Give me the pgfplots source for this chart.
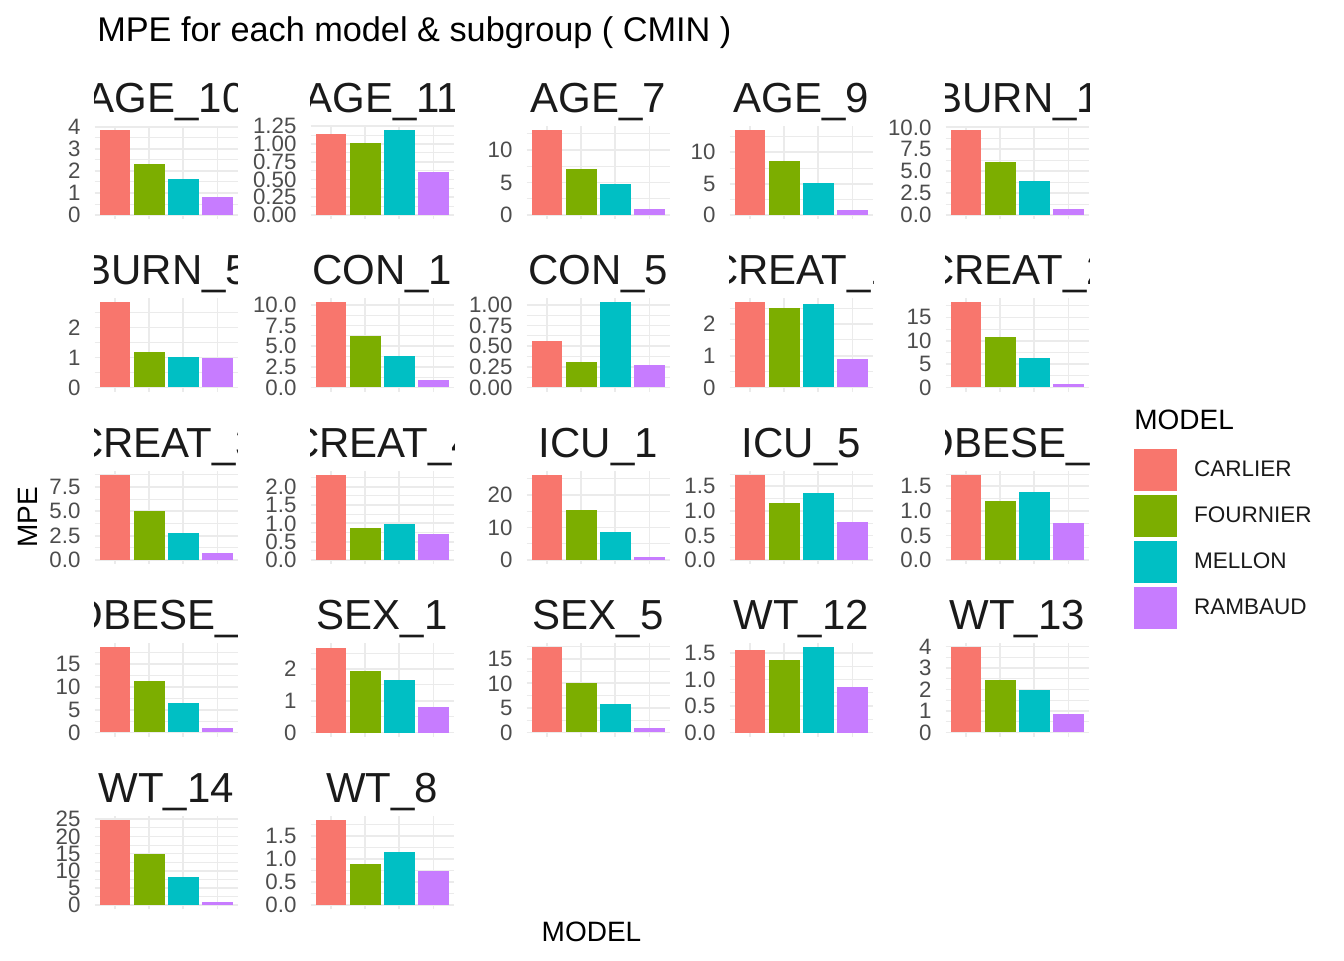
\documentclass[border=0pt]{standalone}
\usepackage{fontspec}
\setmainfont{Liberation Sans}
\usepackage{pgfplots}
\pgfplotsset{compat=1.18}

\definecolor{cCarlier}{HTML}{F8766D}
\definecolor{cFournier}{HTML}{7CAE00}
\definecolor{cMellon}{HTML}{00BFC4}
\definecolor{cRambaud}{HTML}{C77CFF}
\definecolor{gridc}{HTML}{EBEBEB}
\definecolor{tickc}{HTML}{4D4D4D}
\definecolor{txtc}{HTML}{1A1A1A}

\newcommand\tickfont{\fontsize{16.7}{18}\selectfont}
\newcommand\stripfont{\fontsize{31.5}{36}\selectfont}
\newcommand\labfont{\fontsize{21}{24}\selectfont}
\newcommand\legfont{\fontsize{16.9}{19}\selectfont}

\pgfplotsset{
  facet/.style={
    anchor=south west, scale only axis,
    width=107.625pt, height=70.125pt,
    xmin=0.4, xmax=4.6, xtick={1,2,3,4}, xticklabels={},
    ybar, bar width=0.9,
    axis line style={draw=none}, tick style={draw=none},
    xmajorgrids, ymajorgrids, yminorgrids,
    major grid style={draw=gridc, line width=1.3pt},
    minor grid style={draw=gridc, line width=0.65pt},
    yticklabel style={font=\tickfont, text=tickc, inner sep=0pt, xshift=-10.35pt},
    legend image code/.code={\fill[##1] (0pt,-15.625pt) rectangle (32.25pt,15.625pt);},
  },
  bar/.style={draw=none, bar shift=0pt},
  % tick sets
  t01234/.style={ytick={0,1,2,3,4}, yticklabels={0,1,2,3,4}, minor ytick={0.5,1.5,2.5,3.5}},
  t012/.style={ytick={0,1,2}, yticklabels={0,1,2}, minor ytick={0.5,1.5,2.5}},
  tq125/.style={ytick={0,0.25,0.5,0.75,1,1.25}, yticklabels={0.00,0.25,0.50,0.75,1.00,1.25},
    minor ytick={0.125,0.375,0.625,0.875,1.125}},
  tq100/.style={ytick={0,0.25,0.5,0.75,1}, yticklabels={0.00,0.25,0.50,0.75,1.00},
    minor ytick={0.125,0.375,0.625,0.875}},
  t0510/.style={ytick={0,5,10}, yticklabels={0,5,10}, minor ytick={2.5,7.5,12.5}},
  t2510/.style={ytick={0,2.5,5,7.5,10}, yticklabels={0.0,2.5,5.0,7.5,10.0},
    minor ytick={1.25,3.75,6.25,8.75}},
  t2575/.style={ytick={0,2.5,5,7.5}, yticklabels={0.0,2.5,5.0,7.5},
    minor ytick={1.25,3.75,6.25,8.75}},
  t515/.style={ytick={0,5,10,15}, yticklabels={0,5,10,15}, minor ytick={2.5,7.5,12.5,17.5}},
  th20/.style={ytick={0,0.5,1,1.5,2}, yticklabels={0.0,0.5,1.0,1.5,2.0},
    minor ytick={0.25,0.75,1.25,1.75,2.25}},
  t1020/.style={ytick={0,10,20}, yticklabels={0,10,20}, minor ytick={5,15,25}},
  th15/.style={ytick={0,0.5,1,1.5}, yticklabels={0.0,0.5,1.0,1.5}, minor ytick={0.25,0.75,1.25}},
  th15b/.style={ytick={0,0.5,1,1.5}, yticklabels={0.0,0.5,1.0,1.5}, minor ytick={0.25,0.75,1.25,1.75}},
  t525/.style={ytick={0,5,10,15,20,25}, yticklabels={0,5,10,15,20,25},
    minor ytick={2.5,7.5,12.5,17.5,22.5}},
}

% #1 x, #2 y (pt, lower left of panel), #3 strip text, #4 axis options,
% #5..#8 MPE of CARLIER, FOURNIER, MELLON, RAMBAUD
\newcommand{\panel}[8]{%
  \pgfmathsetmacro\ylo{-0.05*max(#5,#6,#7,#8)}%
  \pgfmathsetmacro\yhi{1.05*max(#5,#6,#7,#8)}%
  \begin{axis}[facet, at={(#1pt,#2pt)}, ymin=\ylo, ymax=\yhi, #4]
    \addplot[bar, fill=cCarlier] coordinates {(1,#5)};
    \addplot[bar, fill=cFournier] coordinates {(2,#6)};
    \addplot[bar, fill=cMellon] coordinates {(3,#7)};
    \addplot[bar, fill=cRambaud] coordinates {(4,#8)};
  \end{axis}
  \begin{scope}
    \clip (current axis.north west) rectangle ([yshift=50pt]current axis.north east);
    \node[anchor=base, font=\stripfont, text=txtc, inner sep=0pt]
      at ([yshift=10.3pt]current axis.north) {#3};
  \end{scope}%
}

\begin{document}
\begin{tikzpicture}
\useasboundingbox (0,0) rectangle (1008pt,720pt);

% row 1
\panel{70.875}{555.5625}{AGE\_10}{t01234}{3.85}{2.30}{1.65}{0.83}
\panel{232.875}{555.5625}{AGE\_11}{tq125}{1.14}{1.01}{1.195}{0.605}
\panel{394.875}{555.5625}{AGE\_7}{t0510}{13.08}{7.08}{4.77}{0.92}
\panel{547.125}{555.5625}{AGE\_9}{t0510}{13.56}{8.62}{5.10}{0.80}
\panel{709.125}{555.5625}{BURN\_1}{t2510}{9.70}{6.05}{3.88}{0.68}
% row 2
\panel{70.875}{426.1875}{BURN\_5}{t012}{2.83}{1.19}{1.02}{0.99}
\panel{232.875}{426.1875}{CON\_1}{t2510}{10.3}{6.26}{3.84}{0.93}
\panel{394.875}{426.1875}{CON\_5}{tq100}{0.565}{0.31}{1.03}{0.275}
\panel{547.125}{426.1875}{CREAT\_1}{t012}{2.68}{2.52}{2.64}{0.905}
\panel{709.125}{426.1875}{CREAT\_2}{t515}{18.2}{10.86}{6.36}{0.79}
% row 3
\panel{70.875}{296.8125}{CREAT\_3}{t2575}{8.73}{5.03}{2.77}{0.72}
\panel{232.875}{296.8125}{CREAT\_4}{th20}{2.32}{0.87}{0.98}{0.71}
\panel{394.875}{296.8125}{ICU\_1}{t1020}{26.2}{15.4}{8.56}{0.82}
\panel{547.125}{296.8125}{ICU\_5}{th15b}{1.73}{1.16}{1.36}{0.77}
\panel{709.125}{296.8125}{OBESE\_1}{th15b}{1.73}{1.20}{1.38}{0.76}
% row 4
\panel{70.875}{167.4375}{OBESE\_5}{t515}{18.6}{11.2}{6.4}{0.9}
\panel{232.875}{167.4375}{SEX\_1}{t012}{2.68}{1.93}{1.67}{0.79}
\panel{394.875}{167.4375}{SEX\_5}{t515}{17.3}{10.0}{5.9}{1.0}
\panel{547.125}{167.4375}{WT\_12}{th15}{1.56}{1.37}{1.60}{0.85}
\panel{709.125}{167.4375}{WT\_13}{t01234}{3.95}{2.46}{1.98}{0.85}
% row 5 (legend hangs off the last panel)
\panel{70.875}{38.0625}{WT\_14}{t525}{24.8}{14.85}{8.16}{0.87}
\panel{232.875}{38.0625}{WT\_8}{th15b,
  legend entries={CARLIER,FOURNIER,MELLON,RAMBAUD},
  legend cell align=left,
  legend style={at={(5.739,4.922)}, anchor=north west, draw=none, fill=none,
    inner sep=0pt, outer sep=0pt, row sep=3.25pt, font=\legfont,
    nodes={inner sep=0pt, text=txtc},
    /tikz/every odd column/.style={column sep=12.75pt}}}{1.85}{0.89}{1.15}{0.74}

% titles and labels
\node[anchor=base west, font=\fontsize{25.7}{30}\selectfont, inner sep=0pt]
  at (72.75pt,688.5pt) {MPE for each model \& subgroup ( CMIN )};
\node[rotate=90, font=\labfont, inner sep=0pt] at (21pt,332.25pt) {MPE};
\node[anchor=base, font=\labfont, inner sep=0pt] at (443.6pt,14.25pt) {MODEL};
\node[anchor=base west, font=\labfont, inner sep=0pt] at (850.5pt,397.5pt) {MODEL};
\end{tikzpicture}
\end{document}
